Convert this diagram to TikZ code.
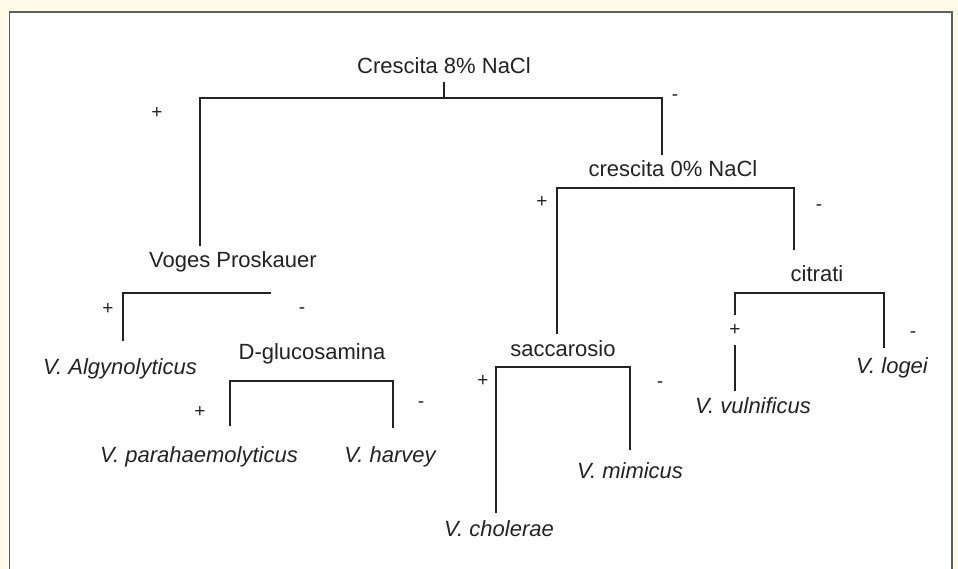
\documentclass[tikz,border=0pt]{standalone}
\usepackage{fontspec}
\setmainfont{Liberation Sans}
\usepackage{xcolor}
\definecolor{bgcream}{RGB}{255,251,230}
\definecolor{framegray}{RGB}{95,95,95}
\definecolor{inkdark}{RGB}{35,35,35}

\begin{document}
\begin{tikzpicture}[x=1pt, y=-1pt,
    lbl/.style={anchor=base, inner sep=1.5pt, text height=20pt, text depth=6pt, font=\fontsize{22}{26}\selectfont, text=inkdark},
    species/.style={lbl, font=\fontsize{22}{26}\selectfont\itshape},
    sgn/.style={inner sep=0pt, font=\fontsize{19}{22}\selectfont, text=inkdark},
    branch/.style={draw=inkdark, line width=2pt}]

    % sfondo e cornice
    \clip (0,0) rectangle (958,569);
    \fill[bgcream] (0,0) rectangle (958,569);
    \draw[framegray, line width=1.5pt, fill=white] (9.5,12) rectangle (952,590);

    % test
    \node[lbl] (nacl8) at (444,74) {Crescita 8\% NaCl};
    \node[lbl] (nacl0) at (673,177) {crescita 0\% NaCl};
    \node[lbl] (vp) at (233,268) {Voges Proskauer};
    \node[lbl] (citr) at (817,281.5) {citrati};
    \node[lbl] (dglu) at (312,359) {D-glucosamina};
    \node[lbl] (sacc) at (563,356) {saccarosio};

    % specie
    \node[species] (alg) at (120,374) {V. Algynolyticus};
    \node[species] (para) at (199,462) {V. parahaemolyticus};
    \node[species] (harv) at (390,462) {V. harvey};
    \node[species] (mim) at (630,478) {V. mimicus};
    \node[species] (chol) at (499,536) {V. cholerae};
    \node[species] (vul) at (753,413) {V. vulnificus};
    \node[species] (logei) at (892,373) {V. logei};

    % segni
    \node[sgn] (p8) at (157,113) {+};
    \node[sgn] (m8) at (675,98) {-};
    \node[sgn] (p0) at (542,202) {+};
    \node[sgn] (m0) at (819,208) {-};
    \node[sgn] (pvp) at (108,309) {+};
    \node[sgn] (mvp) at (302,311) {-};
    \node[sgn] (pdg) at (200,412) {+};
    \node[sgn] (mdg) at (421,405) {-};
    \node[sgn] (psa) at (483,381) {+};
    \node[sgn] (msa) at (660,385) {-};
    \node[sgn] (pci) at (735,330) {+};
    \node[sgn] (mci) at (913,335) {-};

    % barre
    \coordinate (nacl8L) at (200,98);
    \coordinate (nacl8R) at (662,98);
    \coordinate (nacl0L) at (557,188);
    \coordinate (nacl0R) at (794,188);
    \coordinate (vpL) at (123,293);
    \coordinate (vpR) at (271,293);
    \coordinate (dgluL) at (230,381);
    \coordinate (dgluR) at (393,381);
    \coordinate (saccL) at (496,367);
    \coordinate (saccR) at (630,367);
    \coordinate (citrL) at (735,293);
    \coordinate (citrR) at (884,293);

    % rami
    \draw[branch] (nacl8.south) -- (nacl8.south |- nacl8L);
    \draw[branch] (nacl8L |- vp.north) -- (nacl8L) -- (nacl8R) -- (nacl8R |- nacl0.north);
    \draw[branch, shorten >=10pt] (nacl0L |- sacc.north) -- (nacl0L) -- (nacl0R) -- (nacl0R |- citr.north);
    \draw[branch, shorten <=11.5pt] (vpL |- alg.north) -- (vpL) -- (vpR);
    \draw[branch, shorten <=14.5pt, shorten >=12.5pt] (dgluL |- para.north) -- (dgluL) -- (dgluR) -- (dgluR |- harv.north);
    \draw[branch, shorten <=1.5pt, shorten >=6.5pt] (saccL |- chol.north) -- (saccL) -- (saccR) -- (saccR |- mim.north);
    \draw[branch, shorten <=9pt, shorten >=3.5pt] (citrL |- pci.north) -- (citrL) -- (citrR) -- (citrR |- logei.north);
    \draw[branch, shorten <=9pt] (citrL |- pci.south) -- (citrL |- vul.north);
\end{tikzpicture}
\end{document}
